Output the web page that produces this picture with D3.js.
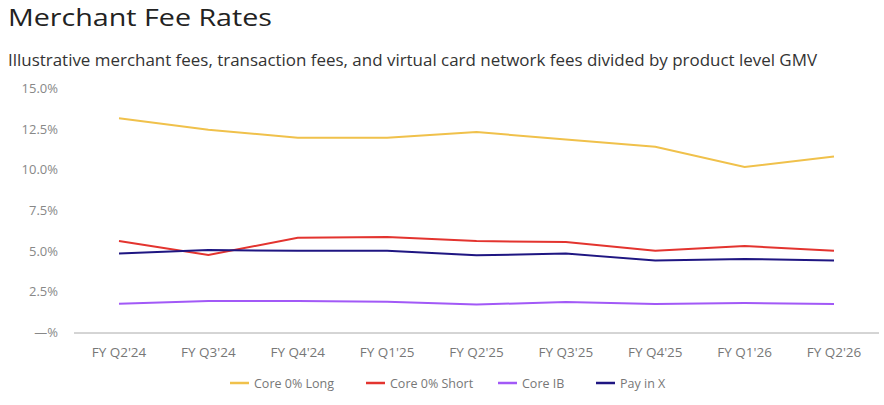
<!DOCTYPE html>
<html><head><meta charset="utf-8">
<script src="https://cdn.jsdelivr.net/npm/d3@7"></script>
<style>body{margin:0;background:#fff;font-family:"Open Sans",sans-serif}</style>
</head><body><svg id="c" width="884" height="405"></svg>
<script>
const quarters = ["FY Q2'24","FY Q3'24","FY Q4'24","FY Q1'25","FY Q2'25","FY Q3'25","FY Q4'25","FY Q1'26","FY Q2'26"];
const coreLong = [13.2,12.5,12.0,12.0,12.35,11.9,11.45,10.2,10.85];
const coreShort = [5.65,4.8,5.85,5.9,5.65,5.6,5.05,5.35,5.05];
const coreIB = [1.8,1.97,1.97,1.92,1.75,1.9,1.78,1.84,1.78];
const payInX = [4.88,5.1,5.05,5.05,4.78,4.88,4.45,4.55,4.45];
const yTicks = [0,2.5,5,7.5,10,12.5,15];

const series = [
  {name:'Core 0% Long', values:coreLong, color:'#f0c14b'},
  {name:'Core 0% Short', values:coreShort, color:'#e3342f'},
  {name:'Core IB', values:coreIB, color:'#a259f7'},
  {name:'Pay in X', values:payInX, color:'#1f1682'}
];

const svg = d3.select('#c');
const x = d3.scalePoint().domain(quarters).range([119,834]);
const y = d3.scaleLinear().domain([0,15]).range([333,89]);

svg.append('text').attr('x',8).attr('y',26).attr('font-size',23).attr('fill','#222')
  .attr('textLength',264).attr('lengthAdjust','spacingAndGlyphs').text('Merchant Fee Rates');
svg.append('text').attr('x',8).attr('y',66).attr('font-size',16).attr('fill','#333')
  .attr('textLength',809).attr('lengthAdjust','spacingAndGlyphs')
  .text('Illustrative merchant fees, transaction fees, and virtual card network fees divided by product level GMV');

svg.append('line').attr('x1',74).attr('x2',879).attr('y1',y(0)).attr('y2',y(0)).attr('stroke','#aaa');

svg.selectAll('.yt').data(yTicks).join('text')
  .attr('x',58).attr('y',d=>y(d)+4).attr('text-anchor','end').attr('font-size',13).attr('fill','#888')
  .text(d=>d===0?'—%':d.toFixed(1)+'%');

svg.selectAll('.xt').data(quarters).join('text')
  .attr('x',d=>x(d)).attr('y',357).attr('text-anchor','middle').attr('font-size',13.5).attr('fill','#777')
  .text(d=>d);

const line = d3.line().x((d,i)=>x(quarters[i])).y(d=>y(d));
series.forEach(s=>{
  svg.append('path').attr('d',line(s.values)).attr('fill','none').attr('stroke',s.color).attr('stroke-width',2);
});

const lx=[230,366,498,596];
series.forEach((s,i)=>{
  svg.append('line').attr('x1',lx[i]).attr('x2',lx[i]+19).attr('y1',383).attr('y2',383).attr('stroke',s.color).attr('stroke-width',2.5);
  svg.append('text').attr('x',lx[i]+24).attr('y',387.5).attr('font-size',12.5).attr('fill','#777').text(s.name);
});
</script></body></html>
